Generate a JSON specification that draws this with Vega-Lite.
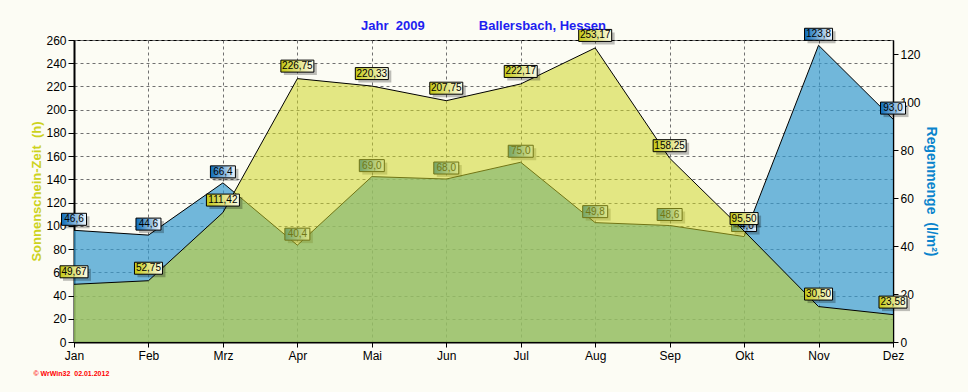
{
  "$schema": "https://vega.github.io/schema/vega-lite/v6.json",
  "width": 819,
  "height": 302,
  "autosize": {"type": "none"},
  "padding": {"left": 74, "top": 40, "right": 75, "bottom": 50},
  "background": "#fcfcf4",
  "config": {
    "view": {"stroke": "black", "strokeWidth": 1},
    "font": "Liberation Sans",
    "locale": {"number": {"decimal": ",", "thousands": ".", "grouping": [3], "currency": ["", " €"]}}
  },
  "title": {
    "text": "Jahr\u00a0\u00a02009\u00a0\u00a0\u00a0\u00a0\u00a0\u00a0\u00a0\u00a0\u00a0\u00a0\u00a0\u00a0\u00a0\u00a0\u00a0Ballersbach, Hessen",
    "font": "Liberation Sans",
    "fontSize": 13,
    "fontWeight": "bold",
    "color": "#1e1ef0",
    "anchor": "middle",
    "frame": "group",
    "baseline": "alphabetic",
    "offset": 10,
    "dy": 25
  },
  "data": {
    "values": [
      {"monat": "Jan", "sonne": 49.67, "regen": 46.6},
      {"monat": "Feb", "sonne": 52.75, "regen": 44.6},
      {"monat": "Mrz", "sonne": 111.42, "regen": 66.4},
      {"monat": "Apr", "sonne": 226.75, "regen": 40.4},
      {"monat": "Mai", "sonne": 220.33, "regen": 69.0},
      {"monat": "Jun", "sonne": 207.75, "regen": 68.0},
      {"monat": "Jul", "sonne": 222.17, "regen": 75.0},
      {"monat": "Aug", "sonne": 253.17, "regen": 49.8},
      {"monat": "Sep", "sonne": 158.25, "regen": 48.6},
      {"monat": "Okt", "sonne": 95.50, "regen": 44.0},
      {"monat": "Nov", "sonne": 30.50, "regen": 123.8},
      {"monat": "Dez", "sonne": 23.58, "regen": 93.0}
    ]
  },
  "encoding": {
    "x": {
      "field": "monat",
      "type": "ordinal",
      "sort": null,
      "scale": {"type": "point", "padding": 0},
      "axis": {
        "title": "©\u00a0WrWin32\u00a0\u00a002.01.2012",
        "titleColor": "#ff0000",
        "titleFontSize": 7,
        "titleFontWeight": "bold",
        "titleX": -41,
        "titleY": 33,
        "titleAlign": "left",
        "titleBaseline": "alphabetic",
        "labelAngle": 0,
        "labelFontSize": 12,
        "labelColor": "black",
        "labelPadding": 3,
        "tickColor": "black",
        "tickSize": 5,
        "domainColor": "black",
        "domainWidth": 2,
        "grid": true,
        "gridDash": [3, 3],
        "gridColor": "#707070"
      }
    }
  },
  "layer": [
    {
      "encoding": {
        "y": {
          "field": "regen",
          "type": "quantitative",
          "scale": {"domain": [0, 126], "nice": false},
          "axis": {
            "orient": "right",
            "values": [0, 20, 40, 60, 80, 100, 120],
            "title": "Regenmenge\u00a0\u00a0(l/m²)",
            "titleColor": "#0a84cc",
            "titleFontSize": 14,
            "titleFontWeight": "bold",
            "titlePadding": 3,
            "labelFontSize": 12,
            "labelColor": "black",
            "labelPadding": 2,
            "tickColor": "black",
            "tickSize": 5,
            "domainColor": "black",
            "domainWidth": 1.5,
            "grid": false
          }
        }
      },
      "layer": [
        {
          "mark": {"type": "area", "fill": "#369ace", "fillOpacity": 0.7, "line": {"color": "black", "strokeWidth": 1}}
        },
        {
          "mark": {"type": "rect", "fill": "#000000", "fillOpacity": 0.25, "xOffset": {"expr": "datum.regen >= 100 ? -11 : -9.5"}, "x2Offset": {"expr": "datum.regen >= 100 ? 17 : 15.5"}, "yOffset": -14, "y2Offset": -2},
          "encoding": {"x2": {"field": "monat"}, "y2": {"field": "regen"}}
        },
        {
          "mark": {
            "type": "rect",
            "fill": {"gradient": "linear", "x1": 0, "y1": 0, "x2": 1, "y2": 0, "stops": [{"offset": 0, "color": "#0a6ab8"}, {"offset": 1, "color": "#eef6fc"}]},
            "stroke": "black",
            "strokeWidth": 1,
            "xOffset": {"expr": "datum.regen >= 100 ? -14 : -12.5"},
            "x2Offset": {"expr": "datum.regen >= 100 ? 14 : 12.5"},
            "yOffset": -17,
            "y2Offset": -5
          },
          "encoding": {"x2": {"field": "monat"}, "y2": {"field": "regen"}}
        },
        {
          "mark": {"type": "text", "font": "Liberation Sans", "fontSize": 10, "color": "black", "baseline": "middle", "dy": -11},
          "encoding": {"text": {"field": "regen", "type": "quantitative", "format": ".1f"}}
        }
      ]
    },
    {
      "encoding": {
        "y": {
          "field": "sonne",
          "type": "quantitative",
          "scale": {"domain": [0, 260], "nice": false},
          "axis": {
            "orient": "left",
            "values": [0, 20, 40, 60, 80, 100, 120, 140, 160, 180, 200, 220, 240, 260],
            "title": "Sonnenschein-Zeit\u00a0\u00a0(h)",
            "titleColor": "#cdd21e",
            "titleFontSize": 13,
            "titleFontWeight": "bold",
            "titlePadding": 2,
            "labelFontSize": 12,
            "labelColor": "black",
            "labelPadding": 2,
            "tickColor": "black",
            "tickSize": 6,
            "domainColor": "black",
            "domainWidth": 2,
            "grid": true,
            "gridDash": [3, 3],
            "gridColor": "#707070"
          }
        }
      },
      "layer": [
        {
          "mark": {"type": "area", "fill": "#cdd527", "fillOpacity": 0.55, "line": {"color": "black", "strokeWidth": 1}}
        },
        {
          "mark": {"type": "rect", "fill": "#000000", "fillOpacity": 0.25, "xOffset": {"expr": "datum.sonne >= 100 ? -13.5 : -11"}, "x2Offset": {"expr": "datum.sonne >= 100 ? 19.5 : 17"}, "yOffset": -15.5, "y2Offset": -3.5},
          "encoding": {"x2": {"field": "monat"}, "y2": {"field": "sonne"}}
        },
        {
          "mark": {
            "type": "rect",
            "fill": {"gradient": "linear", "x1": 0, "y1": 0, "x2": 1, "y2": 0, "stops": [{"offset": 0, "color": "#c4c814"}, {"offset": 1, "color": "#fcfce8"}]},
            "stroke": "black",
            "strokeWidth": 1,
            "xOffset": {"expr": "datum.sonne >= 100 ? -16.5 : -14"},
            "x2Offset": {"expr": "datum.sonne >= 100 ? 16.5 : 14"},
            "yOffset": -18.5,
            "y2Offset": -6.5
          },
          "encoding": {"x2": {"field": "monat"}, "y2": {"field": "sonne"}}
        },
        {
          "mark": {"type": "text", "font": "Liberation Sans", "fontSize": 10, "color": "black", "baseline": "middle", "dy": -12.5},
          "encoding": {"text": {"field": "sonne", "type": "quantitative", "format": ".2f"}}
        }
      ]
    }
  ],
  "resolve": {"scale": {"y": "independent"}}
}
